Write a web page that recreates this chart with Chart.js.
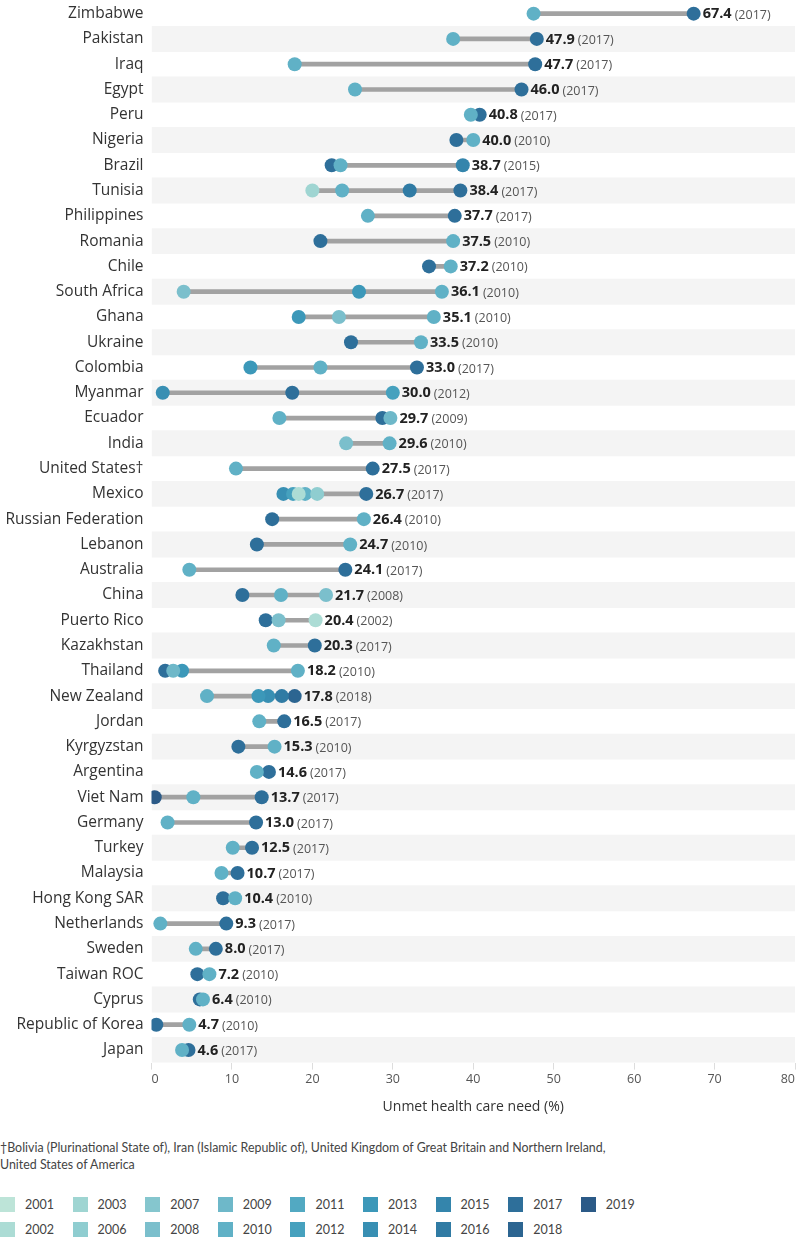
<!DOCTYPE html>
<html><head><meta charset="utf-8">
<script src="https://cdn.jsdelivr.net/npm/chart.js@4.4.0/dist/chart.umd.min.js"></script>
<style>
body{margin:0;background:#fff;width:797px;height:1240px;overflow:hidden;position:relative;font-family:'Open Sans',sans-serif;}
#wrap{position:absolute;left:0;top:-6px;width:802px;height:1130px;}
#foot{position:absolute;left:0;top:1139px;font:12.4px Lato;color:#444;line-height:17px;width:797px;}
#legend{position:absolute;left:0;top:1196px;width:797px;height:44px;}
.li{position:absolute;font:12.5px Lato;color:#444;display:flex;align-items:center;height:16px;}
.sw{width:15px;height:15px;margin-right:10px;}
</style></head><body>
<div id="wrap"><canvas id="c"></canvas></div>
<div id="foot">†Bolivia (Plurinational State of), Iran (Islamic Republic of), United Kingdom of Great Britain and Northern Ireland,<br>United States of America</div>
<div id="legend"></div>
<script>
const countries = ["Zimbabwe","Pakistan","Iraq","Egypt","Peru","Nigeria","Brazil","Tunisia","Philippines","Romania","Chile","South Africa","Ghana","Ukraine","Colombia","Myanmar","Ecuador","India","United States†","Mexico","Russian Federation","Lebanon","Australia","China","Puerto Rico","Kazakhstan","Thailand","New Zealand","Jordan","Kyrgyzstan","Argentina","Viet Nam","Germany","Turkey","Malaysia","Hong Kong SAR","Netherlands","Sweden","Taiwan ROC","Cyprus","Republic of Korea","Japan"];

const years = ["2001","2002","2003","2006","2007","2008","2009","2010","2011","2012","2013","2014","2015","2016","2017","2018","2019"];
const yearColors = ["#bde4d8","#acdcd5","#9fd5d2","#8fcdd0","#85c6ce","#7bbfcc","#6eb8c9","#60b1c6","#52a9c2","#46a1be","#3c98b9","#388fb3","#3485ac","#307ba4","#2e6f9a","#2c6591","#2b5a87"];

// aligned with countries
const v2010 = [47.5,37.5,17.8,25.3,39.7,40.0,23.5,23.7,26.9,37.5,37.2,36.1,35.1,33.5,21.0,null,15.9,29.6,10.5,19.1,26.4,24.7,4.7,16.1,null,15.2,18.2,6.9,13.4,15.3,13.1,5.2,2.0,10.1,8.7,10.4,1.1,5.5,7.2,6.4,4.7,3.8];
const v2017 = [67.4,47.9,47.7,46.0,40.8,37.9,22.4,38.4,37.7,21.0,34.5,null,null,24.8,33.0,17.5,28.7,null,27.5,26.7,15.0,13.1,24.1,11.3,14.2,20.3,1.7,null,16.5,10.8,14.6,13.7,13.0,12.5,10.7,8.9,9.3,8.0,5.7,6.0,0.6,4.6];

// sparse years: [country, value]
const v2002 = [["Mexico",18.3],["Puerto Rico",20.4]];
const v2003 = [["Tunisia",20.0]];
const v2006 = [["Mexico",20.6]];
const v2008 = [["South Africa",4.0],["Ghana",23.3],["India",24.2],["China",21.7],["Puerto Rico",15.8]];
const v2009 = [["Ecuador",29.7],["Thailand",2.7]];
const v2012 = [["Myanmar",30.0],["Mexico",17.6]];
const v2013 = [["South Africa",25.8],["Ghana",18.3],["Colombia",12.3],["Thailand",3.8],["New Zealand",13.3]];
const v2014 = [["Myanmar",1.4],["Mexico",16.4],["New Zealand",14.5]];
const v2015 = [["Brazil",38.7]];
const v2016 = [["Tunisia",32.1],["New Zealand",16.2]];
const v2018 = [["New Zealand",17.8]];
const v2019 = [["Viet Nam",0.4]];

const xTicksMax = 80;

function fromPairs(pairs){
  const a = countries.map(()=>null);
  pairs.forEach(([c,v])=>{a[countries.indexOf(c)] = v;});
  return a;
}
const series = {
  "2002": fromPairs(v2002), "2003": fromPairs(v2003), "2006": fromPairs(v2006),
  "2008": fromPairs(v2008), "2009": fromPairs(v2009), "2010": v2010,
  "2012": fromPairs(v2012), "2013": fromPairs(v2013), "2014": fromPairs(v2014),
  "2015": fromPairs(v2015), "2016": fromPairs(v2016), "2017": v2017,
  "2018": fromPairs(v2018), "2019": fromPairs(v2019)
};

const pointSets = [];
years.forEach((y,i)=>{
  if(!series[y]) return;
  pointSets.push({
    type:'line', label:y, indexAxis:'y', data: series[y], showLine:false,
    pointRadius:7, pointHoverRadius:7, pointBorderWidth:0,
    pointBackgroundColor: yearColors[i], borderColor: yearColors[i], backgroundColor: yearColors[i]
  });
});

// range and max per country
const ranges = [], maxInfo = [];
countries.forEach((c,i)=>{
  let mn=Infinity, mx=-Infinity, my=null;
  Object.keys(series).forEach(y=>{
    const v = series[y][i];
    if(v==null) return;
    if(v<mn) mn=v;
    if(v>mx){mx=v;my=y;}
  });
  ranges.push([mn,mx]);
  maxInfo.push({v:mx,y:my});
});
const bands = countries.map((c,i)=> i%2===1 ? [0,xTicksMax] : null);

const valueLabels = {
  id:'valueLabels',
  afterDatasetsDraw(chart){
    const ctx = chart.ctx, xs = chart.scales.x, ys = chart.scales.y;
    ctx.save();
    ctx.textBaseline='middle';
    maxInfo.forEach((m,i)=>{
      const x = xs.getPixelForValue(m.v) + 9;
      const y = ys.getPixelForValue(i) + 0.5;
      ctx.font = "bold 14.5px 'Open Sans'";
      ctx.fillStyle = '#222';
      const t = m.v.toFixed(1);
      ctx.fillText(t, x, y);
      const w = ctx.measureText(t).width;
      ctx.font = "12.5px 'Open Sans'";
      ctx.fillStyle = '#555';
      ctx.fillText('(' + m.y + ')', x + w + 3, y + 1);
    });
    ctx.restore();
  }
};

Chart.defaults.font.family = "'Open Sans', sans-serif";
new Chart(document.getElementById('c'), {
  data: {
    labels: countries,
    datasets: [
      ...pointSets,
      {type:'bar', indexAxis:'y', data: ranges, backgroundColor:'#a2a2a2', barThickness:4, grouped:false},
      {type:'bar', indexAxis:'y', data: bands, backgroundColor:'#f4f4f4', barPercentage:1, categoryPercentage:1, grouped:false}
    ]
  },
  options: {
    indexAxis:'y',
    responsive:true, maintainAspectRatio:false, animation:false,
    layout:{padding:0},
    plugins:{legend:{display:false}, tooltip:{enabled:false}},
    scales:{
      x:{type:'linear', min:0, max:xTicksMax, position:'bottom',
        ticks:{stepSize:10, align:'inner', padding:2, color:'#555', font:{size:12.5}},
        grid:{drawOnChartArea:false, drawTicks:true, tickLength:7, color:'#ddd'},
        border:{display:false},
        title:{display:true, text:'Unmet health care need (%)', color:'#333', font:{size:14}, padding:{top:4,bottom:9}},
        afterFit(s){ s.height = 61.4; s.paddingLeft = 0; s.paddingRight = 0; }
      },
      y:{type:'category', labels: countries, offset:true,
        ticks:{padding:8, color:'#333', font:{size:15.5}, autoSkip:false},
        grid:{display:false, drawTicks:false}, border:{display:false},
        afterFit(s){ s.width = 151.5; s.paddingTop = 0; s.paddingBottom = 0; }
      }
    }
  },
  plugins:[valueLabels]
});

// legend (column-major, 2 rows)
const lg = document.getElementById('legend');
years.forEach((y,i)=>{
  const col = Math.floor(i/2), row = i%2;
  const d = document.createElement('div');
  d.className='li';
  d.style.left = (col*72.6)+'px';
  d.style.top = (row*25)+'px';
  d.innerHTML = '<span class="sw" style="background:'+yearColors[i]+'"></span>'+y;
  lg.appendChild(d);
});
</script>
</body></html>
